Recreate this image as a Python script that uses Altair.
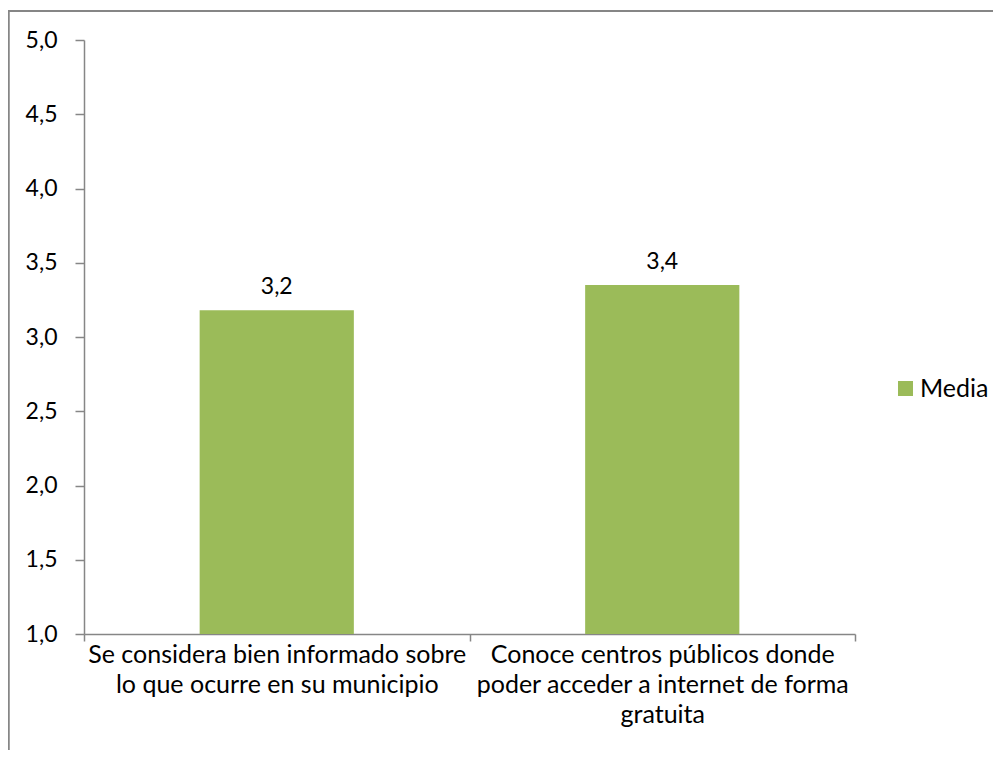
import altair as alt
import pandas as pd

categories = [
    "Se considera bien informado sobre\nlo que ocurre en su municipio",
    "Conoce centros públicos donde\npoder acceder a internet de forma\ngratuita",
]
values = [3.18, 3.35]
value_labels = ["3,2", "3,4"]
series = ["Media", "Media"]
y_ticks = [1.0, 1.5, 2.0, 2.5, 3.0, 3.5, 4.0, 4.5, 5.0]

df = pd.DataFrame({"cat": categories, "val": values, "lab": value_labels, "serie": series})

FONT = "Lato"
FS_NUM = 23
FS_TXT = 25
GRAY = "#868686"
GREEN = "#9BBB59"

x_enc = alt.X("cat:N", sort=None, title=None,
              scale=alt.Scale(paddingInner=0, paddingOuter=0),
              axis=alt.Axis(labelAngle=0, tickBand="extent", labelExpr="split(datum.label, '\\n')",
                            labelLineHeight=30, labelPadding=1, tickSize=7, labelLimit=500,
                            domainColor=GRAY, tickColor=GRAY, domainWidth=1.5, tickWidth=1.5,
                            labelFont=FONT, labelFontSize=FS_TXT, labelColor="black", grid=False))
y_enc = alt.Y("val:Q", title=None,
              scale=alt.Scale(domain=[1, 5], nice=False, zero=False),
              axis=alt.Axis(values=y_ticks, labelExpr="replace(format(datum.value, '.1f'), '.', ',')",
                            tickSize=9, labelPadding=18, grid=False,
                            domainColor=GRAY, tickColor=GRAY, domainWidth=1.5, tickWidth=1.5,
                            labelFont=FONT, labelFontSize=FS_NUM, labelColor="black"))

bars = alt.Chart(df).mark_bar(width=alt.RelativeBandSize(0.4)).encode(
    x=x_enc, y=y_enc, y2=alt.datum(1),
    color=alt.Color("serie:N", title=None,
                    scale=alt.Scale(domain=["Media"], range=[GREEN]),
                    legend=alt.Legend(orient="none", legendX=809, legendY=336, symbolType="square",
                                      symbolSize=225, symbolStrokeWidth=0, labelFont=FONT,
                                      labelFontSize=FS_TXT, labelColor="black", padding=0, labelOffset=2)),
)

text = alt.Chart(df).mark_text(font=FONT, fontSize=FS_NUM, color="black", baseline="alphabetic", dy=-16).encode(
    x=alt.X("cat:N", sort=None), y="val:Q", text="lab:N")

frame = alt.Chart(df).mark_rect(fill=None, stroke=GRAY, strokeWidth=2).encode(
    x=alt.value(-75.5), x2=alt.value(1000), y=alt.value(-29), y2=alt.value(800))

chart = alt.layer(frame, bars, text).properties(
    width=771, height=594,
    autosize=alt.AutoSizeParams(type="none"),
    padding={"left": 76, "top": 32, "right": 138, "bottom": 116},
).configure_view(stroke=None)

chart.save("out.html", embed_options={"renderer": "svg", "actions": False})
